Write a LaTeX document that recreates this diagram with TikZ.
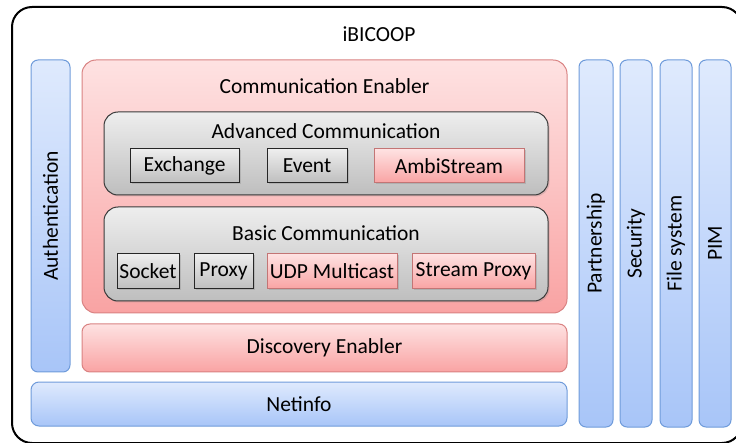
\documentclass[tikz,border=0pt]{standalone}
\usepackage{fontspec}
\setmainfont{Carlito}
\usetikzlibrary{shadows}
\definecolor{blueTop}{HTML}{DFEAFD}
\definecolor{blueBot}{HTML}{A8C5F8}
\definecolor{blueLine}{HTML}{6F9BDA}
\definecolor{redTop}{HTML}{FEE2E2}
\definecolor{redBot}{HTML}{F9A3A3}
\definecolor{redLine}{HTML}{D98282}
\definecolor{grayTop}{HTML}{EEEEEE}
\definecolor{grayBot}{HTML}{BEBEBE}
\definecolor{grayLine}{HTML}{3A3A3A}
\tikzset{
  base/.style={anchor=north west, inner sep=0pt, outer sep=0pt},
  bluebox/.style={base, rounded corners=7pt, draw=blueLine, line width=1pt, top color=blueTop, bottom color=blueBot},
  redbox/.style={base, rounded corners=14pt, draw=redLine, line width=1pt, top color=redTop, bottom color=redBot},
  graybox/.style={base, rounded corners=14pt, draw=grayLine, line width=1pt, top color=grayTop, bottom color=grayBot,
     drop shadow={shadow xshift=1.5pt, shadow yshift=-1.5pt, opacity=0.25}},
  smallgray/.style={base, draw=black!85, line width=1pt, top color=grayTop, bottom color=grayBot,
     drop shadow={shadow xshift=1.5pt, shadow yshift=-1.5pt, opacity=0.3}},
  smallred/.style={base, draw=redLine!90!black, line width=1pt, top color=redTop, bottom color=redBot,
     drop shadow={shadow xshift=1.5pt, shadow yshift=-1.5pt, opacity=0.3}},
  txt/.style={font=\fontsize{21.5}{25}\selectfont, inner sep=0pt, text=black},
}
\begin{document}
\begin{tikzpicture}[x=1pt, y=-1pt]
\useasboundingbox (0,0) rectangle (736,443);
\begin{scope}
\clip (0,0) rectangle (736,443);
\node[base, draw=black, line width=2pt, rounded corners=20pt, minimum width=730pt, minimum height=436pt] (outer) at (12,7) {};
\end{scope}
\node[txt] (title) at (379,34) {iBICOOP};

% left column
\node[bluebox, minimum width=39pt, minimum height=312pt] (auth) at (31,60) {};
\node[txt, rotate=90] at (auth.center) {Authentication};

% communication enabler
\node[redbox, minimum width=485pt, minimum height=253pt] (ce) at (82,60) {};
\node[txt] (cetitle) at (324.5,86) {Communication Enabler};

% advanced
\node[graybox, minimum width=444pt, minimum height=83pt] (adv) at (104,112) {};
\node[txt] (advtitle) at (326,131) {Advanced Communication};
\node[smallgray, minimum width=109pt, minimum height=34pt] (exch) at (130,149) {};
\node[txt] at (exch.center) {Exchange};
\node[smallgray, minimum width=80pt, minimum height=34pt] (event) at (267,149) {};
\node[txt] at (event.center) {Event};
\node[smallred, minimum width=150pt, minimum height=34pt] (ambi) at (374,149) {};
\node[txt] at (ambi.center) {AmbiStream};

% basic
\node[graybox, minimum width=444pt, minimum height=94pt] (basic) at (104,207) {};
\node[txt] (basictitle) at (326,233) {Basic Communication};
\node[smallgray, minimum width=62pt, minimum height=35pt] (sock) at (117,254) {};
\node[txt] at (sock.center) {Socket};
\node[smallgray, minimum width=59pt, minimum height=35pt] (proxy) at (194,254) {};
\node[txt] at (proxy.center) {Proxy};
\node[smallred, minimum width=130pt, minimum height=35pt] (udp) at (267,254) {};
\node[txt] at (udp.center) {UDP Multicast};
\node[smallred, minimum width=123pt, minimum height=35pt] (sp) at (412,254) {};
\node[txt] at (sp.center) {Stream Proxy};

% discovery
\node[redbox, rounded corners=8pt, minimum width=485pt, minimum height=48pt] (disc) at (82,324) {};
\node[txt] at (disc.center) {Discovery Enabler};

% netinfo
\node[bluebox, rounded corners=8pt, minimum width=536pt, minimum height=44pt] (net) at (31,382) {};
\node[txt] at (net.center) {Netinfo};

% right columns
\node[bluebox, minimum width=34pt, minimum height=367pt] (part) at (579,60) {};
\node[txt, rotate=90] at (part.center) {Partnership};
\node[bluebox, minimum width=32pt, minimum height=367pt] (sec) at (620,60) {};
\node[txt, rotate=90] at (sec.center) {Security};
\node[bluebox, minimum width=32pt, minimum height=367pt] (fs) at (660,60) {};
\node[txt, rotate=90] at (fs.center) {File system};
\node[bluebox, minimum width=32pt, minimum height=367pt] (pim) at (699,60) {};
\node[txt, rotate=90] at (pim.center) {PIM};
\end{tikzpicture}
\end{document}
